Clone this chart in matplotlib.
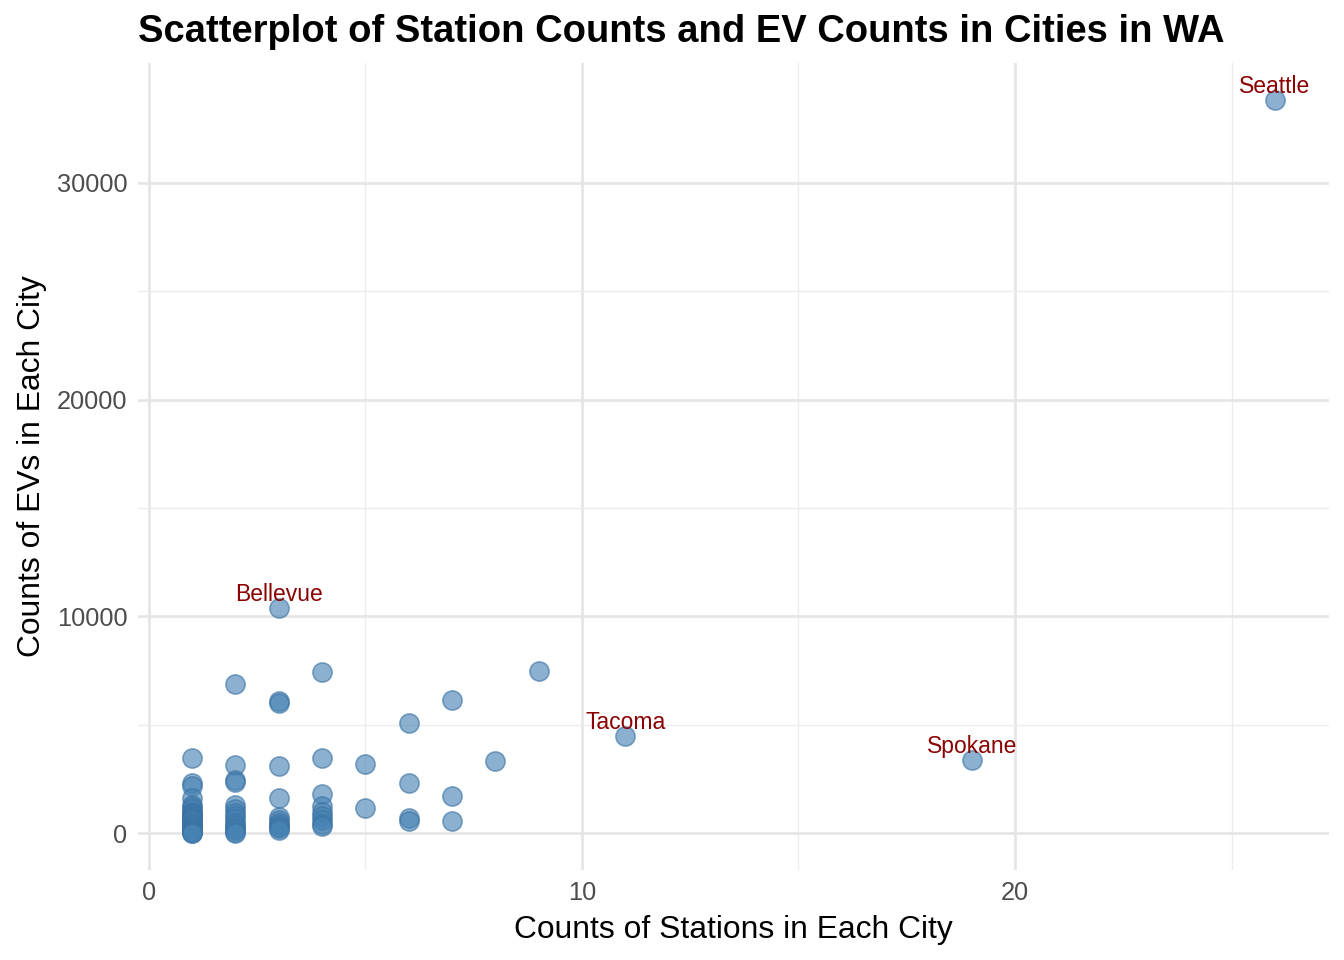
import matplotlib.pyplot as plt

plt.rcParams['font.family'] = ['Liberation Sans', 'DejaVu Sans']

# station counts (x) and EV counts (y) per city
stations = [1]*30 + [2]*16 + [3]*12 + [4]*9 + [5]*2 + [6]*4 + [7]*3 + [8, 9, 11, 19, 26]
evs = [3480, 2300, 2200, 1650, 1300, 1200, 1100, 1000, 950, 900, 850, 800, 750, 700,
       650, 600, 550, 500, 450, 400, 350, 300, 250, 200, 150, 120, 90, 60, 30, 10,
       6900, 3150, 2450, 2350, 1300, 1100, 950, 800, 650, 500, 400, 300, 200, 150, 80, 30,
       10400, 6100, 6000, 3100, 1650, 750, 600, 500, 400, 300, 250, 150,
       7450, 3480, 1800, 1250, 1000, 800, 600, 450, 350,
       3200, 1150,
       5100, 2300, 700, 550,
       6150, 1700, 550,
       3350, 7500, 4500, 3400, 33830]

labels = {"Seattle": (26, 33830), "Bellevue": (3, 10400),
          "Tacoma": (11, 4500), "Spokane": (19, 3400)}

fig = plt.figure(figsize=(7, 5), dpi=192)
ax = fig.add_axes([138/1344, 90/960, 1191/1344, 807/960])

ax.scatter(stations, evs, s=52, color='#4682B4', alpha=0.62,
           edgecolors='#3b72a3', linewidths=0.6, zorder=3)

for name, (x, y) in labels.items():
    ax.annotate(name, (x, y), xytext=(0, 0.5), textcoords='offset points',
                ha='center', va='bottom', color='#8B0000', fontsize=8.6, zorder=4)

ax.set_xlim(-0.25, 27.25)
ax.set_ylim(-1690, 35520)
ax.set_xticks([0, 10, 20])
ax.set_xticks([5, 15, 25], minor=True)
ax.set_yticks([0, 10000, 20000, 30000])
ax.set_yticks([5000, 15000, 25000], minor=True)
ax.grid(which='major', color='#e5e5e5', linewidth=1.0)
ax.grid(which='minor', color='#ececec', linewidth=0.5)
ax.set_axisbelow(True)
for s in ax.spines.values():
    s.set_visible(False)
ax.tick_params(which='both', length=0, labelsize=9.5, labelcolor='#4d4d4d', pad=4)

ax.set_xlabel('Counts of Stations in Each City', fontsize=11.9, labelpad=4)
ax.set_ylabel('Counts of EVs in Each City', fontsize=11.9, labelpad=3.5)
fig.text(138/1344, 1 - 32/960, 'Scatterplot of Station Counts and EV Counts in Cities in WA',
         fontsize=14.3, fontweight='bold', va='center', ha='left')

fig.savefig('out.png', dpi=192)
